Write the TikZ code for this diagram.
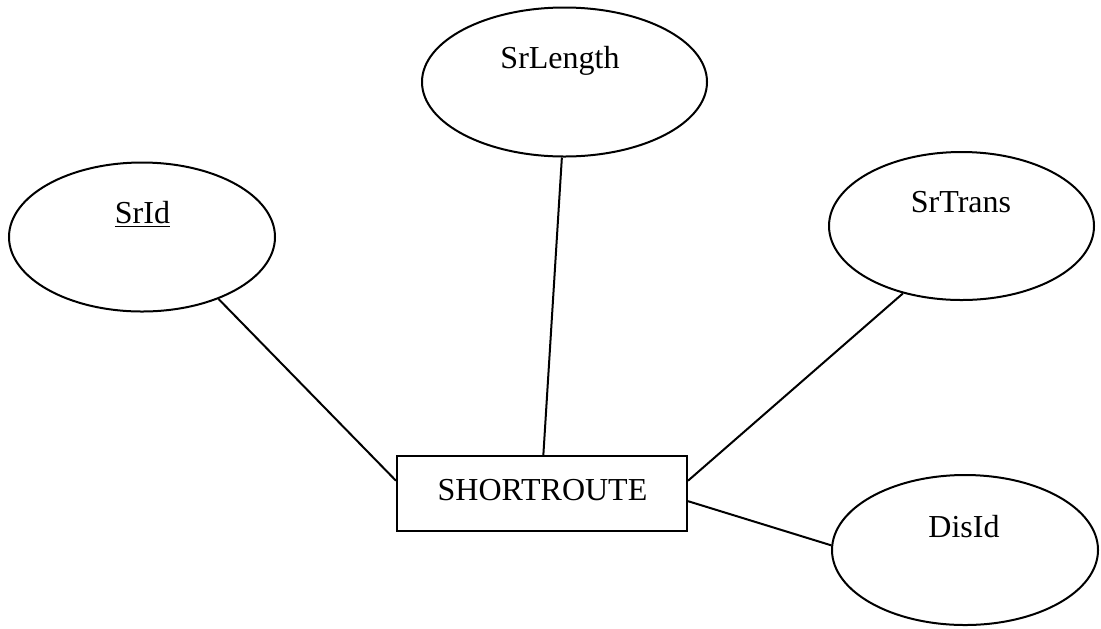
\documentclass[tikz,border=0pt]{standalone}
\usepackage{fontspec}
\setmainfont{Liberation Serif}
\usetikzlibrary{shapes.geometric}
\begin{document}
\begin{tikzpicture}[x=0.5pt,y=-0.5pt,
  attr/.style={draw=black,line width=1pt,ellipse,inner sep=0pt},
  entity/.style={draw=black,line width=1pt,rectangle,inner sep=0pt,
    minimum width=145pt,minimum height=37.5pt},
  lbl/.style={anchor=base,inner sep=0pt,font=\fontsize{16}{19}\selectfont},
  link/.style={draw=black,line width=1pt}]
\useasboundingbox (0,0) rectangle (1101,628);

% entity
\node[entity] (sr) at (542,493.5) {};
\node[lbl] (srtxt) at (542.5,500) {SHORTROUTE};

% attributes
\node[attr,minimum width=133pt,minimum height=74.5pt] (srid) at (142,237) {};
\node[lbl] (sridtxt) at (142.5,223) {\underline{SrId}};

\node[attr,minimum width=142.5pt,minimum height=74.5pt] (srlen) at (564.5,82) {};
\node[lbl] (srlentxt) at (560,68) {SrLength};

\node[attr,minimum width=132.5pt,minimum height=74pt] (srtrans) at (961.5,226) {};
\node[lbl] (srtranstxt) at (961,212) {SrTrans};

\node[attr,minimum width=133pt,minimum height=75pt] (disid) at (965,550) {};
\node[lbl] (disidtxt) at (964,537) {DisId};

% connectors
\draw[link] (srid.-39) -- (sr.175);
\draw[link] (srlen.-92.7) -- (sr.88.5);
\draw[link] (srtrans.-131) -- (sr.5.9);
\draw[link] (sr.-3.9) -- (disid.178);
\end{tikzpicture}
\end{document}
